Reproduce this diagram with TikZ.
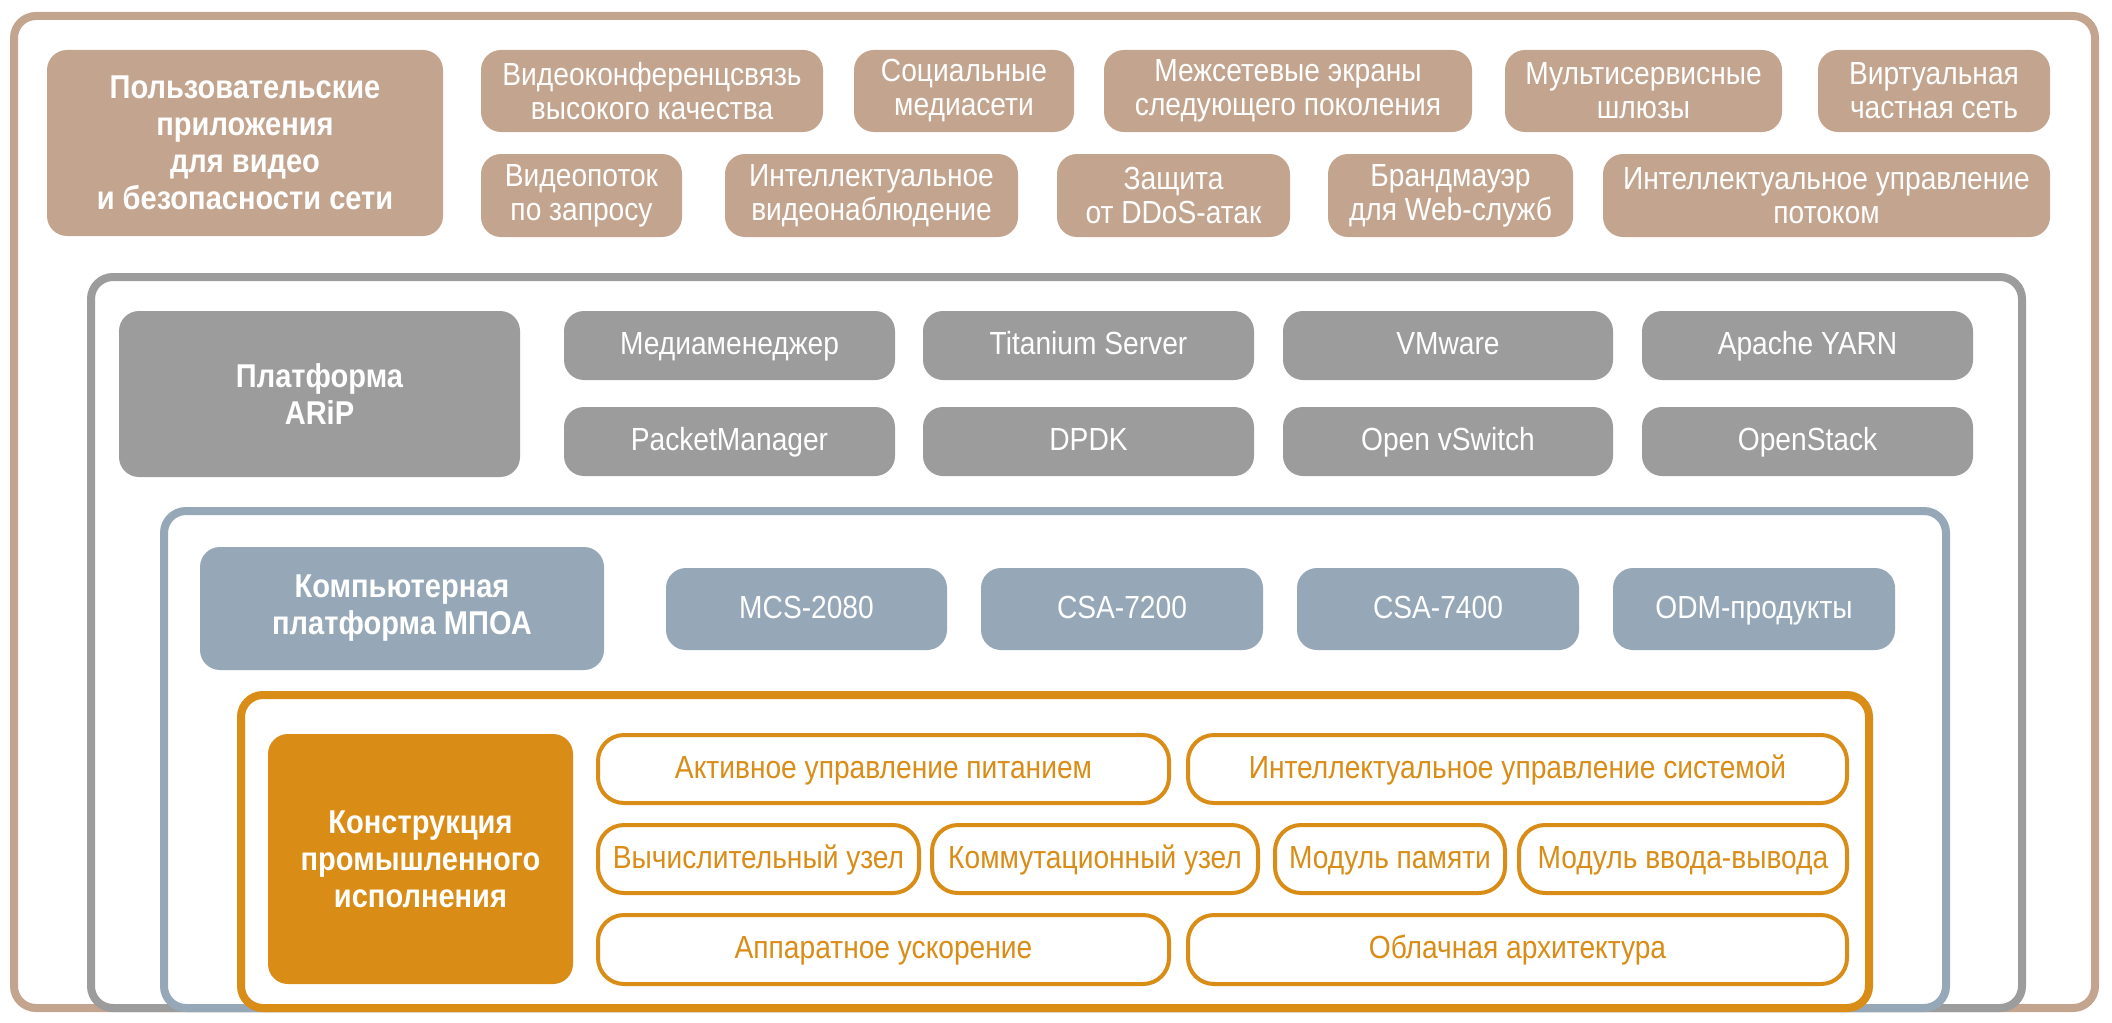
\documentclass[tikz,border=0pt]{standalone}
\usepackage{fontspec}
\setmainfont{Liberation Sans}[FakeStretch=0.88]
\definecolor{cbrown}{HTML}{C3A58F}
\definecolor{cgray}{HTML}{9C9C9C}
\definecolor{cblue}{HTML}{96A8B7}
\definecolor{corange}{HTML}{D98D17}
% \mybox{name}{style}{x1}{y1}{x2}{y2}{text}  (pixel coordinates of the box outline)
\newcommand\mybox[7]{\node[#2, minimum width={(#5-#3)*0.5pt}, minimum height={(#6-#4)*0.5pt}]
  (#1) at ({(#3+#5)/2},{(#4+#6)/2}) {#7};}
\begin{document}
\begin{tikzpicture}[x=0.5pt,y=-0.5pt,
  frame/.style={draw=#1, line width=4pt, rounded corners=11pt, fill=white, inner sep=0pt},
  fbox/.style={fill=#1, rounded corners=10pt, inner sep=0pt, text=white, align=center,
    font=\fontsize{16}{17}\selectfont},
  one/.style={text height=11.5pt, text depth=2.5pt},
  tbox/.style={fill=#1, rounded corners=10pt, inner sep=0pt, text=white, align=center,
    font=\bfseries\fontsize{16.5}{18.5}\selectfont},
  obox/.style={draw=corange, line width=2pt, rounded corners=13pt, fill=white, inner sep=0pt,
    text=corange, align=center, font=\fontsize{16}{17}\selectfont, one}]
\useasboundingbox (0,0) rectangle (2112,1022);
\fill[white] (0,0) rectangle (2112,1022);

% outer frame: applications
\mybox{fApp}{frame=cbrown}{14}{16}{2095}{1008}{}
\mybox{tApp}{tbox=cbrown}{47}{50}{443}{236}{Пользовательские\\приложения\\для видео\\и безопасности сети}
\mybox{a1}{fbox=cbrown}{481}{50}{823}{132}{Видеоконференцсвязь\\высокого качества}
\mybox{a2}{fbox=cbrown}{854}{50}{1074}{132}{Социальные\\медиасети}
\mybox{a3}{fbox=cbrown}{1104}{50}{1472}{132}{Межсетевые экраны\\следующего поколения}
\mybox{a4}{fbox=cbrown}{1505}{50}{1782}{132}{Мультисервисные\\шлюзы}
\mybox{a5}{fbox=cbrown}{1818}{50}{2050}{132}{Виртуальная\\частная сеть}
\mybox{b1}{fbox=cbrown}{481}{154}{682}{237}{Видеопоток\\по запросу}
\mybox{b2}{fbox=cbrown}{725}{154}{1018}{237}{Интеллектуальное\\видеонаблюдение}
\mybox{b3}{fbox=cbrown}{1057}{154}{1290}{237}{Защита\\от DDoS-атак}
\mybox{b4}{fbox=cbrown}{1328}{154}{1573}{237}{Брандмауэр\\для Web-служб}
\mybox{b5}{fbox=cbrown}{1603}{154}{2050}{237}{Интеллектуальное управление\\потоком}

% platform frame
\mybox{fPlat}{frame=cgray}{91}{277}{2022}{1008}{}
\mybox{tPlat}{tbox=cgray}{119}{311}{520}{477}{Платформа\\ARiP}
\mybox{p1}{fbox=cgray,one}{564}{311}{895}{380}{Медиаменеджер}
\mybox{p2}{fbox=cgray,one}{923}{311}{1254}{380}{Titanium Server}
\mybox{p3}{fbox=cgray,one}{1283}{311}{1613}{380}{VMware}
\mybox{p4}{fbox=cgray,one}{1642}{311}{1973}{380}{Apache YARN}
\mybox{q1}{fbox=cgray,one}{564}{407}{895}{476}{PacketManager}
\mybox{q2}{fbox=cgray,one}{923}{407}{1254}{476}{DPDK}
\mybox{q3}{fbox=cgray,one}{1283}{407}{1613}{476}{Open vSwitch}
\mybox{q4}{fbox=cgray,one}{1642}{407}{1973}{476}{OpenStack}

% computer platform frame
\mybox{fComp}{frame=cblue}{164}{511}{1946}{1008}{}
\mybox{tComp}{tbox=cblue}{200}{547}{604}{670}{Компьютерная\\платформа МПОА}
\mybox{c1}{fbox=cblue,one}{666}{568}{947}{650}{MCS-2080}
\mybox{c2}{fbox=cblue,one}{981}{568}{1263}{650}{CSA-7200}
\mybox{c3}{fbox=cblue,one}{1297}{568}{1579}{650}{CSA-7400}
\mybox{c4}{fbox=cblue,one}{1613}{568}{1895}{650}{ODM-продукты}

% industrial design frame
\mybox{fInd}{frame=corange}{241}{695}{1869}{1008}{}
\mybox{tInd}{tbox=corange}{268}{734}{573}{984}{Конструкция\\промышленного\\исполнения}
\mybox{d1}{obox}{598}{735}{1169}{803}{Активное управление питанием}
\mybox{d2}{obox}{1188}{735}{1847}{803}{Интеллектуальное управление системой}
\mybox{e1}{obox}{598}{825}{919}{893}{Вычислительный узел}
\mybox{e2}{obox}{932}{825}{1258}{893}{Коммутационный узел}
\mybox{e3}{obox}{1275}{825}{1505}{893}{Модуль памяти}
\mybox{e4}{obox}{1519}{825}{1847}{893}{Модуль ввода-вывода}
\mybox{g1}{obox}{598}{915}{1169}{984}{Аппаратное ускорение}
\mybox{g2}{obox}{1188}{915}{1847}{984}{Облачная архитектура}
\end{tikzpicture}
\end{document}
